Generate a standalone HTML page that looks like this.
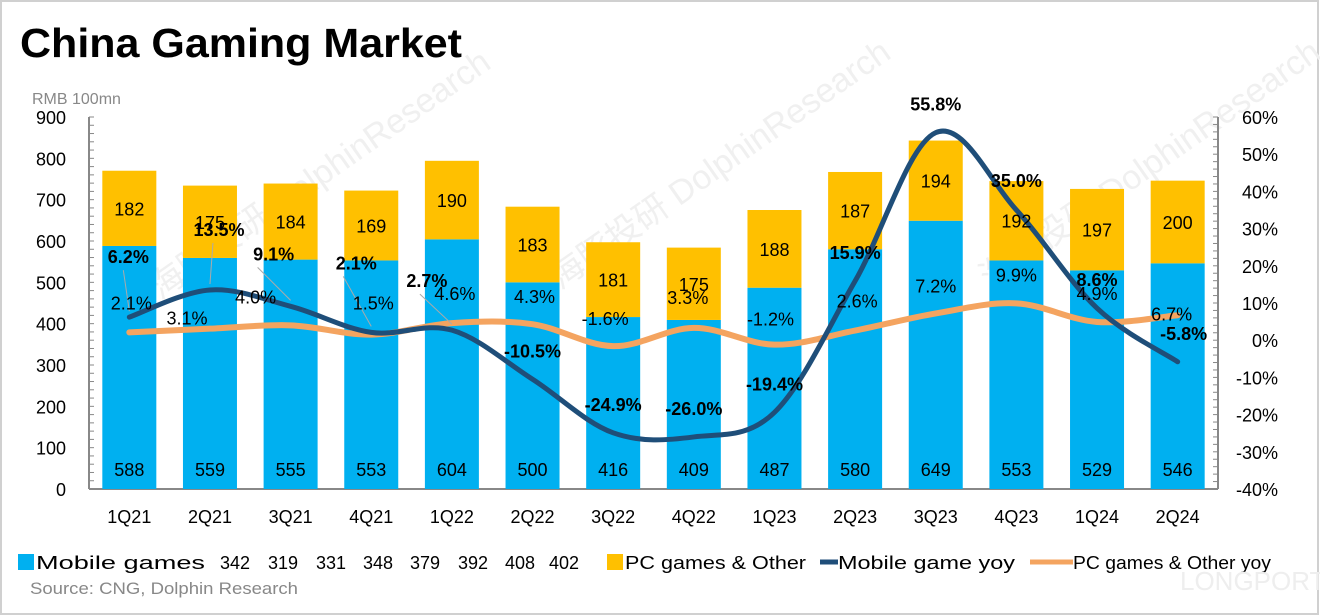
<!DOCTYPE html>
<html><head><meta charset="utf-8">
<style>
html,body{margin:0;padding:0;background:#fff;}
body{width:1320px;height:616px;overflow:hidden;font-family:"Liberation Sans","Noto Sans CJK SC",sans-serif;}
svg{display:block}
</style></head>
<body>
<svg id="chart" width="1320" height="616" xmlns="http://www.w3.org/2000/svg" font-family="Liberation Sans, Noto Sans CJK SC, sans-serif">
<rect x="1" y="1" width="1317" height="613" fill="#fff" stroke="#d0d0d0" stroke-width="2"/>
<text x="20" y="57" font-size="41" font-weight="bold" fill="#000" textLength="442" lengthAdjust="spacingAndGlyphs">China Gaming Market</text>
<text x="32" y="104" font-size="16" fill="#888">RMB 100mn</text>
<g id="wm" fill="#f0f0f0" font-size="34">
<text x="160" y="300" transform="rotate(-35 160 300)">海豚投研 DolphinResearch</text>
<text x="560" y="290" transform="rotate(-35 560 290)">海豚投研 DolphinResearch</text>
<text x="990" y="290" transform="rotate(-35 990 290)">海豚投研 DolphinResearch</text>
</g>
<g id="axes"></g>
<g id="bars"></g>
<g id="lines"></g>
<g id="labels"></g>
<g id="legend" font-size="18" fill="#000">
<rect x="18" y="554" width="16" height="16" fill="#00b0f0"/>
<text x="36" y="569" textLength="169" lengthAdjust="spacingAndGlyphs">Mobile games</text>
<g text-anchor="middle">
<text x="235" y="569">342</text><text x="283" y="569">319</text><text x="331" y="569">331</text><text x="378" y="569">348</text><text x="425" y="569">379</text><text x="473" y="569">392</text><text x="520" y="569">408</text><text x="564" y="569">402</text>
</g>
<rect x="607" y="554" width="16" height="16" fill="#ffc000"/>
<text x="625" y="569" textLength="181" lengthAdjust="spacingAndGlyphs">PC games &amp; Other</text>
<line x1="820" y1="562" x2="838" y2="562" stroke="#1f4e79" stroke-width="5"/>
<text x="838" y="569" textLength="177" lengthAdjust="spacingAndGlyphs">Mobile game yoy</text>
<line x1="1030" y1="562" x2="1073" y2="562" stroke="#f4a460" stroke-width="5"/>
<text x="1073" y="569" textLength="198" lengthAdjust="spacingAndGlyphs">PC games &amp; Other yoy</text>
</g>
<text x="30" y="594" font-size="17" fill="#888" textLength="268" lengthAdjust="spacingAndGlyphs">Source: CNG, Dolphin Research</text>
<text x="1180" y="590" font-size="26" fill="#eee">LONGPORT</text>
</svg>
<script>
const categories=["1Q21","2Q21","3Q21","4Q21","1Q22","2Q22","3Q22","4Q22","1Q23","2Q23","3Q23","4Q23","1Q24","2Q24"];
const mobile=[588,559,555,553,604,500,416,409,487,580,649,553,529,546];
const pc=[182,175,184,169,190,183,181,175,188,187,194,192,197,200];
const mobileYoy=[6.2,13.5,9.1,2.1,2.7,-10.5,-24.9,-26.0,-19.4,15.9,55.8,35.0,8.6,-5.8];
const pcYoy=[2.1,3.1,4.0,1.5,4.6,4.3,-1.6,3.3,-1.2,2.6,7.2,9.9,4.9,6.7];
const leftTicks=[0,100,200,300,400,500,600,700,800,900];
const rightTicks=[-40,-30,-20,-10,0,10,20,30,40,50,60];
// label layout offsets (not data)
const mLblOff=[[-1,-61],[9,-61],[-17,-53],[-15,-70],[-25,-50],[0,-29],[0,-29],[0,-29],[0,-29],[0,-29],[0,-29],[0,-30],[0,-29],[6,-29]];
const pLblOff=[[2,-30],[-23,-11],[-35,-29],[2,-32],[3,-30],[2,-28],[-8,-28],[-6,-31],[-4,-26],[2,-30],[0,-28],[0,-29],[0,-29],[-6,-2]];
const NS="http://www.w3.org/2000/svg";
const X0=89,X1=1218,Y0=489,Y1=117;
const step=(X1-X0)/categories.length;
const xC=i=>X0+step*(i+0.5);
const yL=v=>Y0-(v/900)*(Y0-Y1);
const yR=v=>Y0-((v+40)/100)*(Y0-Y1);
const BW=54;
function mk(tag,attrs,parent,txt){const e=document.createElementNS(NS,tag);for(const k in attrs)e.setAttribute(k,attrs[k]);if(txt!==undefined)e.textContent=txt;parent.appendChild(e);return e;}
const axes=document.getElementById('axes'),bars=document.getElementById('bars'),lines=document.getElementById('lines'),labels=document.getElementById('labels');
let a=mk('line',{x1:X0,y1:Y1,x2:X0,y2:Y0,stroke:'#888','stroke-width':2},axes);

a=mk('line',{x1:X1,y1:Y1,x2:X1,y2:Y0,stroke:'#888','stroke-width':2},axes);

a=mk('line',{x1:X0,y1:Y0,x2:X1,y2:Y0,stroke:'#888','stroke-width':2},axes);

for(let v=0;v<=900;v+=20){mk('line',{x1:X0,y1:yL(v),x2:X0+5,y2:yL(v),stroke:'#888','stroke-width':1},axes);}
for(let v=-40;v<=60;v+=2){mk('line',{x1:X1-5,y1:yR(v),x2:X1,y2:yR(v),stroke:'#888','stroke-width':1},axes);}
leftTicks.forEach(v=>{const t=mk('text',{x:66,y:yL(v)+7,'font-size':18,'text-anchor':'end',fill:'#000'},axes,String(v));
});
rightTicks.forEach(v=>{const t=mk('text',{x:1278,y:yR(v)+7,'font-size':18,'text-anchor':'end',fill:'#000'},axes,v+'%');
});
categories.forEach((c,i)=>{const t=mk('text',{x:xC(i),y:523,'font-size':18,'text-anchor':'middle',fill:'#000'},axes,c);
});
categories.forEach((c,i)=>{
 const r1=mk('rect',{x:xC(i)-BW/2,y:yL(mobile[i]),width:BW,height:Y0-yL(mobile[i]),fill:'#00b0f0'},bars);
 
 const r2=mk('rect',{x:xC(i)-BW/2,y:yL(mobile[i]+pc[i]),width:BW,height:yL(mobile[i])-yL(mobile[i]+pc[i]),fill:'#ffc000'},bars);
 
 const t1=mk('text',{x:xC(i),y:476,'font-size':18,'text-anchor':'middle',fill:'#000'},labels,String(mobile[i]));
 
 const t2=mk('text',{x:xC(i),y:(yL(mobile[i])+yL(mobile[i]+pc[i]))/2+7,'font-size':18,'text-anchor':'middle',fill:'#000'},labels,String(pc[i]));
 
});
function smooth(pts){let d='M'+pts[0][0]+','+pts[0][1];for(let i=0;i<pts.length-1;i++){const p0=pts[i-1]||pts[i],p1=pts[i],p2=pts[i+1],p3=pts[i+2]||p2;const t=0.17;
d+=' C'+(p1[0]+(p2[0]-p0[0])*t)+','+(p1[1]+(p2[1]-p0[1])*t)+' '+(p2[0]-(p3[0]-p1[0])*t)+','+(p2[1]-(p3[1]-p1[1])*t)+' '+p2[0]+','+p2[1];}return d;}
const pcPts=pcYoy.map((v,i)=>[xC(i),yR(v)]);
const mPts=mobileYoy.map((v,i)=>[xC(i),yR(v)]);
let l=mk('path',{d:smooth(pcPts),fill:'none',stroke:'#f4a460','stroke-width':6,'stroke-linecap':'round'},lines);

l=mk('path',{d:smooth(mPts),fill:'none',stroke:'#1f4e79','stroke-width':5,'stroke-linecap':'round'},lines);

const leadDx=[-5,-6,-16,-13,-7];
mobileYoy.forEach((v,i)=>{const o=mLblOff[i];const lx=xC(i)+o[0],ly=mPts[i][1]+o[1];
 if(i<5){mk('line',{x1:lx+leadDx[i],y1:ly+14,x2:mPts[i][0],y2:mPts[i][1]-6,stroke:'#aaa','stroke-width':1},labels);}
 const t=mk('text',{x:lx,y:ly+7,'font-size':18,'font-weight':'bold','text-anchor':'middle',fill:'#000'},labels,v.toFixed(1)+'%');
 });
pcYoy.forEach((v,i)=>{const o=pLblOff[i];
 const t=mk('text',{x:xC(i)+o[0],y:pcPts[i][1]+o[1]+7,'font-size':18,'text-anchor':'middle',fill:'#000'},labels,v.toFixed(1)+'%');
 });
</script>
</body></html>
